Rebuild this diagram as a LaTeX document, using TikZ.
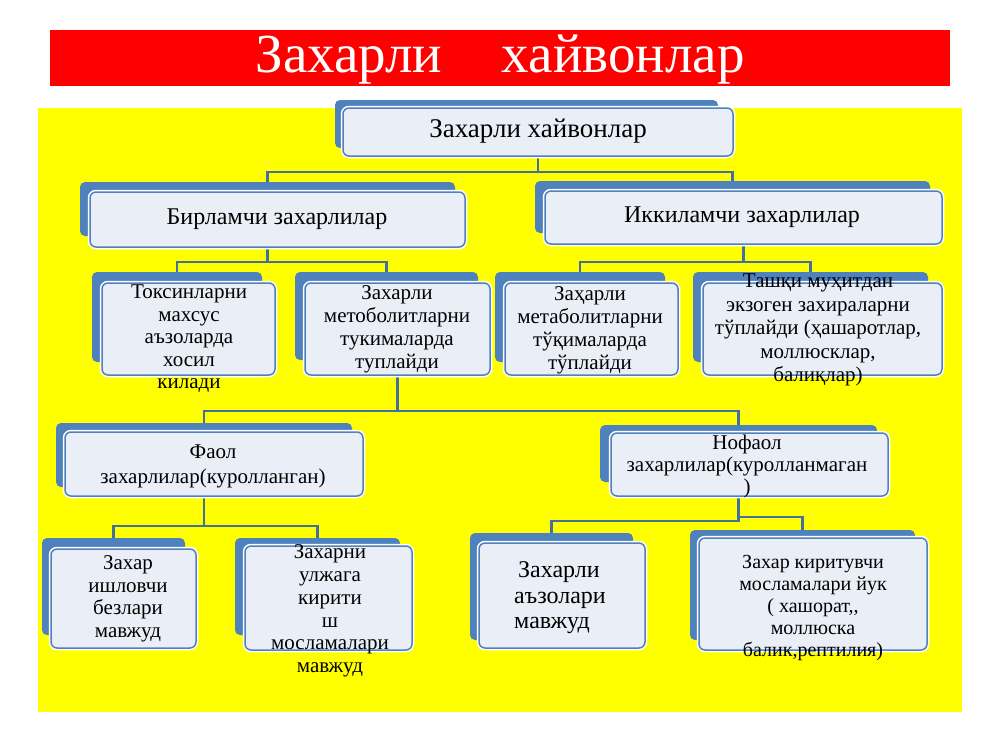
\documentclass[tikz,border=0pt]{standalone}
\usepackage{fontspec}
\setmainfont{Liberation Serif}
\newfontfamily\serf{Liberation Serif}
\usetikzlibrary{fit}
\definecolor{bk}{RGB}{79,129,189}
\definecolor{fr}{RGB}{234,239,247}
\definecolor{bd}{RGB}{79,129,189}
\definecolor{ln}{RGB}{65,113,156}
\definecolor{ylw}{RGB}{255,255,0}
\definecolor{rd}{RGB}{255,0,0}
\pgfdeclarelayer{bg}
\pgfdeclarelayer{lines}
\pgfsetlayers{bg,lines,main}
\newcommand\fsz[2]{\serf\fontsize{#1}{#2}\selectfont}
\newcommand\mybox[9]{%
  \node[backbox, fit={(#2,#3)(#4,#5)}] (#1b) {};
  \node[frontbox, fit={(#6,#7)(#8,#9)}] (#1) {};
}
\begin{document}
\begin{tikzpicture}[x=1pt,y=-1pt,
  backbox/.style={fill=bk, rounded corners=5pt, inner sep=0pt, outer sep=0pt},
  frontbox/.style={fill=fr, draw=bd, line width=1.5pt, rounded corners=6pt, inner sep=0pt, outer sep=0pt, preaction={draw=white, line width=4.5pt}},
  conn/.style={draw=ln, line width=2.2pt},
  txt/.style={align=center, inner sep=0pt, text=black}]
\useasboundingbox (0,0) rectangle (1000,750);
\begin{pgfonlayer}{bg}
  \fill[white] (0,0) rectangle (1000,750);
  \fill[rd] (50,30) rectangle (950,86);
  \fill[ylw] (38,108) rectangle (962,712);
\end{pgfonlayer}
\node[txt, text=white, font=\fsz{55}{60}] (title) at (500,60) {Захарли\hspace{46pt} хайвонлар};

% boxes: name, back x1 y1 x2 y2, front x1 y1 x2 y2
\mybox{top}{335}{100}{718}{148}{343}{108}{733}{156}
\mybox{la}{80}{182}{455}{236}{90}{192}{465}{247}
\mybox{lb}{535}{181}{930}{233}{545}{191}{942}{244}
\mybox{ma}{92}{272}{262}{362}{102}{283}{275}{375}
\mybox{mb}{295}{272}{478}{360}{305}{283}{490}{375}
\mybox{mc}{495}{272}{665}{362}{505}{283}{678}{375}
\mybox{md}{693}{272}{928}{362}{703}{283}{942}{375}
\mybox{na}{56}{423}{352}{487}{65}{432}{363}{496}
\mybox{nb}{600}{425}{877}{482}{611}{433}{888}{496}
\mybox{pa}{42}{538}{185}{635}{51}{549}{196}{648}
\mybox{pb}{235}{538}{400}{635}{245}{546}{412}{650}
\mybox{pc}{470}{533}{633}{640}{479}{543}{645}{648}
\mybox{pd}{690}{530}{915}{640}{699}{538}{927}{650}

% bus levels
\coordinate (bus1) at (0,172);
\coordinate (bus2) at (0,262);
\coordinate (bus3) at (0,411);
\coordinate (bus4) at (0,526);
\coordinate (bus5) at (0,521);
\coordinate (bus6) at (0,517);

\begin{pgfonlayer}{lines}
  \draw[conn] (top.center) -- (top.center |- bus1) -| (lab.center);
  \draw[conn] (top.center |- bus1) -| (lbb.center);
  \draw[conn] (lab.center) -- (lab.center |- bus2) -| (mab.center);
  \draw[conn] (lab.center |- bus2) -| (mbb.center);
  \draw[conn] (lb.center) -- (lb.center |- bus2) -| (mcb.center);
  \draw[conn] (lb.center |- bus2) -| (mdb.center);
  \draw[conn] (mb.center) -- (mb.center |- bus3) -| (nab.center);
  \draw[conn] (mb.center |- bus3) -| (nbb.center);
  \draw[conn] (nab.center) -- (nab.center |- bus4) -| (pab.center);
  \draw[conn] (nab.center |- bus4) -| (pbb.center);
  \draw[conn] (nbb.center) -- (nbb.center |- bus5) -| (pcb.center);
  \draw[conn] (nbb.center |- bus6) -| (pdb.center);
\end{pgfonlayer}

% texts
\node[txt, font=\fsz{27}{30}] (topt) at (538,131) {Захарли хайвонлар};
\node[txt, font=\fsz{24}{27}] (lat) at (277,219) {Бирламчи захарлилар};
\node[txt, font=\fsz{24}{27}] (lbt) at (742,217) {Иккиламчи захарлилар};
\node[txt, font=\fsz{21}{22.5}] (mat) at (189,339) {Токсинларни\\махсус\\аъзоларда\\хосил\\килади};
\node[txt, font=\fsz{21}{23}] (mbt) at (397,329) {Захарли\\метоболитларни\\тукималарда\\туплайди};
\node[txt, font=\fsz{21}{23}] (mct) at (590,330) {Заҳарли\\метаболитларни\\тўқималарда\\тўплайди};
\node[txt, font=\fsz{21}{23.5}] (mdt) at (818,330) {Ташқи муҳитдан\\экзоген захираларни\\тўплайди (ҳашаротлар,\\моллюсклар,\\балиқлар)};
\node[txt, font=\fsz{21}{25}] (nat) at (213,466) {Фаол\\захарлилар(куролланган)};
\node[txt, font=\fsz{21}{22}] (nbt) at (747,466) {Нофаол\\захарлилар(куролланмаган\\)};
\node[txt, font=\fsz{21}{22.5}] (pat) at (128,599) {Захар\\ишловчи\\безлари\\мавжуд};
\node[txt, font=\fsz{21}{22.8}] (pbt) at (330,611) {Захарни\\улжага\\кирити\\ш\\мосламалари\\мавжуд};
\node[txt, align=left, anchor=west, font=\fsz{24}{25.5}] (pct) at (514,598) {\hspace{4pt}Захарли\\аъзолари\\мавжуд};
\node[txt, font=\fsz{20}{22}] (pdt) at (813,608) {Захар киритувчи\\мосламалари йук\\( хашорат,,\\моллюска\\балик,рептилия)};
\end{tikzpicture}
\end{document}
